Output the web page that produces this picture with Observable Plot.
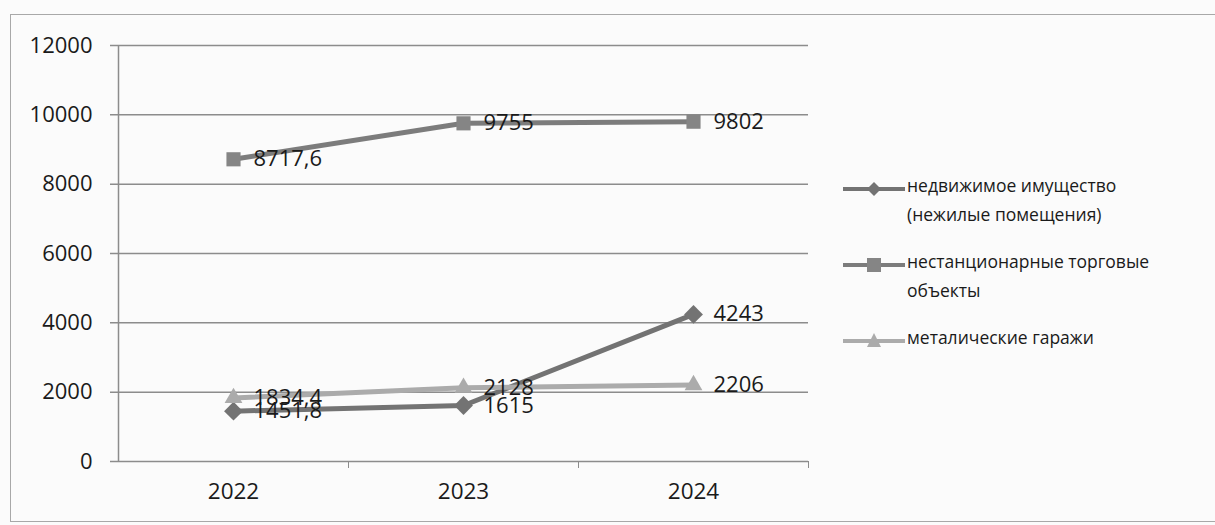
<!DOCTYPE html>
<html><head><meta charset="utf-8">
<script src="https://cdn.jsdelivr.net/npm/d3@7"></script>
<script src="https://cdn.jsdelivr.net/npm/@observablehq/plot@0.6"></script>
<style>
html,body{margin:0;padding:0;background:#fbfbfb;overflow:hidden}
#wrap{position:relative;width:1215px;height:525px;font-family:"Open Sans",sans-serif}
#border{position:absolute;left:10px;top:14px;width:1230px;height:508px;border:1.5px solid #a8a8a8;box-sizing:border-box}
#legend{position:absolute;left:843px;top:171px;font-size:17.5px;color:#1a1a1a;line-height:29px}
.item{display:flex;align-items:flex-start;margin-bottom:18px}
.item svg{flex:none;margin-top:6px}
</style></head>
<body><div id="wrap"><div id="border"></div><div id="chart"></div><div id="legend"></div></div>
<script>
const years = [2022, 2023, 2024];
const seriesNames = ["недвижимое имущество (нежилые помещения)", "нестанционарные торговые объекты", "металические гаражи"];
const realEstate = [1451.8, 1615, 4243];
const kiosks = [8717.6, 9755, 9802];
const garages = [1834.4, 2128, 2206];
const yTicks = [0, 2000, 4000, 6000, 8000, 10000, 12000];
const bounds = [2021.5, 2022.5, 2023.5, 2024.5];

const colors = ["#737373", "#7c7c7c", "#ababab"];
const symbols = ["diamond2", "square2", "triangle2"];
const all = [realEstate, kiosks, garages];
const data = [];
all.forEach((arr, s) => arr.forEach((v, i) => data.push({year: years[i], value: v, s})));
const fmt = v => String(v).replace(".", ",");

const marks = [
  Plot.ruleY(yTicks, {stroke: "#8c8c8c", strokeWidth: 1.5, x1: 2021.5, x2: 2024.5, insetLeft: -8}),
  Plot.ruleX([2021.5], {y1: 0, y2: 12000, stroke: "#8c8c8c", strokeWidth: 1.5}),
  Plot.axisY({ticks: yTicks, tickSize: 0, tickPadding: 26, tickFormat: d => String(d), fontSize: 22, fill: "#1a1a1a", label: null}),
  Plot.axisX({ticks: bounds.slice(1), tickSize: 7, tickFormat: () => "", stroke: "#8c8c8c", label: null}),
  Plot.axisX({ticks: years, tickSize: 0, tickPadding: 22, tickFormat: d => String(d), fontSize: 22.5, fill: "#1a1a1a", label: null})
];
all.forEach((arr, s) => {
  const d = data.filter(o => o.s === s);
  marks.push(Plot.line(d, {x: "year", y: "value", stroke: colors[s], strokeWidth: 5}));
  marks.push(Plot.dot(d, {x: "year", y: "value", symbol: () => symbols[s], r: s === 1 ? 9 : 8.5, fill: s === 1 ? "#858585" : colors[s], stroke: "none"}));
});
all.forEach((arr, s) => {
  const d = data.filter(o => o.s === s);
  marks.push(Plot.text(d, {x: "year", y: "value", text: o => fmt(o.value), dx: 20, textAnchor: "start", fontSize: 22, fill: "#1a1a1a", fontFamily: "Open Sans"}));
});

const chart = Plot.plot({
  width: 1215, height: 525,
  marginLeft: 118, marginRight: 407, marginTop: 45, marginBottom: 64,
  style: {background: "transparent", fontFamily: "Open Sans", overflow: "visible"},
  x: {type: "linear", domain: [2021.5, 2024.5], axis: null},
  y: {domain: [0, 12000], axis: null},
  marks
});
document.getElementById("chart").appendChild(chart);

const leg = document.getElementById("legend");
const lbls = ["недвижимое имущество<br>(нежилые помещения)", "нестанционарные торговые<br>объекты", "металические гаражи"];
lbls.forEach((t, s) => {
  const div = document.createElement("div");
  div.className = "item";
  const sym = s === 0 ? `<path d="M31,9 l7,7 l-7,7 l-7,-7z" fill="${colors[0]}"/>`
            : s === 1 ? `<rect x="24" y="9" width="14" height="14" fill="#858585"/>`
            : `<path d="M31,8 l7,14 l-14,0z" fill="${colors[2]}"/>`;
  div.innerHTML = `<svg width="64" height="24" viewBox="0 4 64 24"><line x1="0" y1="16" x2="62" y2="16" stroke="${colors[s]}" stroke-width="4"/>${sym}</svg><div>${t}</div>`;
  leg.appendChild(div);
});
</script></body></html>
